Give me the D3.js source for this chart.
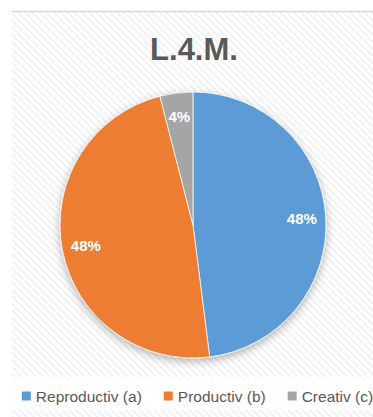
<!DOCTYPE html>
<html>
<head>
<meta charset="utf-8">
<script src="https://cdn.jsdelivr.net/npm/d3@7"></script>
<style>
  html, body { margin: 0; padding: 0; background: #ffffff; }
  svg { display: block; }
</style>
</head>
<body>
<svg id="chart" width="373" height="417"></svg>
<script>
// Shares of activity types
const categories = ["Reproductiv (a)", "Productiv (b)", "Creativ (c)"];
const values = [48, 48, 4];
const colors = ["#5B9BD5", "#ED7D31", "#A5A5A5"];
const title = "L.4.M.";

const W = 373, H = 417;
const svg = d3.select("#chart");
const font = "'Liberation Sans', Arial, sans-serif";

const defs = svg.append("defs");

// light diagonal hatch used as the chart-area fill
const pat = defs.append("pattern")
  .attr("id", "hatch")
  .attr("patternUnits", "userSpaceOnUse")
  .attr("width", 5).attr("height", 5)
  .attr("patternTransform", "rotate(45)");
pat.append("rect").attr("width", 5).attr("height", 5).attr("fill", "#ffffff");
pat.append("rect").attr("width", 5).attr("height", 2).attr("fill", "#f1f1f1");

// soft shadow under the pie
const f = defs.append("filter").attr("id", "shadow")
  .attr("x", "-20%").attr("y", "-20%").attr("width", "140%").attr("height", "140%");
f.append("feDropShadow")
  .attr("dx", 0).attr("dy", 3).attr("stdDeviation", 4)
  .attr("flood-color", "#000").attr("flood-opacity", 0.3);

// chart frame
const frame = { x: 12, y: 11, w: W - 12 + 10, h: H - 11 + 10 };
svg.append("rect")
  .attr("x", frame.x).attr("y", frame.y)
  .attr("width", frame.w).attr("height", frame.h)
  .attr("fill", "url(#hatch)");
svg.append("line")
  .attr("x1", frame.x).attr("x2", W)
  .attr("y1", frame.y + 0.5).attr("y2", frame.y + 0.5)
  .attr("stroke", "#d9d9d9").attr("stroke-width", 1.5);

// title
svg.append("text")
  .attr("x", 194).attr("y", 59.5)
  .attr("text-anchor", "middle")
  .attr("font-family", font)
  .attr("font-weight", "bold")
  .attr("font-size", 31)
  .attr("fill", "#595959")
  .text(title);

// pie
const cx = 193, cy = 225, R = 133;
const data = categories.map((c, i) => ({ name: c, value: values[i], color: colors[i] }));
const pie = d3.pie().value(d => d.value).sort(null);
const arcs = pie(data);
const arc = d3.arc().innerRadius(0).outerRadius(R);
const labelArc = d3.arc().innerRadius(R * 0.82).outerRadius(R * 0.82);

const g = svg.append("g").attr("transform", `translate(${cx},${cy})`);
g.append("g").attr("filter", "url(#shadow)")
  .selectAll("path")
  .data(arcs)
  .join("path")
  .attr("d", arc)
  .attr("fill", d => d.data.color)
  .attr("stroke", "#ffffff")
  .attr("stroke-width", 0.75);

const total = d3.sum(values);
g.selectAll("text.lbl")
  .data(arcs)
  .join("text")
  .attr("class", "lbl")
  .attr("transform", d => `translate(${labelArc.centroid(d)})`)
  .attr("text-anchor", "middle")
  .attr("dy", "0.36em")
  .attr("font-family", font)
  .attr("font-weight", "bold")
  .attr("font-size", 15)
  .attr("fill", "#ffffff")
  .text(d => d3.format(".0%")(d.data.value / total));

// legend band
svg.append("rect")
  .attr("x", frame.x).attr("y", 377)
  .attr("width", W - frame.x).attr("height", 33)
  .attr("fill", "#ffffff").attr("opacity", 0.85);

const legend = svg.append("g");
const sq = 9, gap = 5, itemGap = 22, legFont = 15.5;
const items = legend.selectAll("g.item")
  .data(data)
  .join("g").attr("class", "item");
items.append("rect")
  .attr("width", sq).attr("height", sq)
  .attr("fill", d => d.color);
const texts = items.append("text")
  .attr("x", sq + gap)
  .attr("y", 0)
  .attr("font-family", font)
  .attr("font-size", legFont)
  .attr("fill", "#595959")
  .text(d => d.name);
const widths = texts.nodes().map(n => n.getComputedTextLength() + sq + gap);
const totalW = d3.sum(widths) + itemGap * (widths.length - 1);
let x0 = 197.5 - totalW / 2;
items.each(function (d, i) {
  d3.select(this).attr("transform", `translate(${x0},0)`);
  x0 += widths[i] + itemGap;
});
items.select("rect").attr("y", -10);
legend.attr("transform", "translate(0,401.5)");
</script>
</body>
</html>
